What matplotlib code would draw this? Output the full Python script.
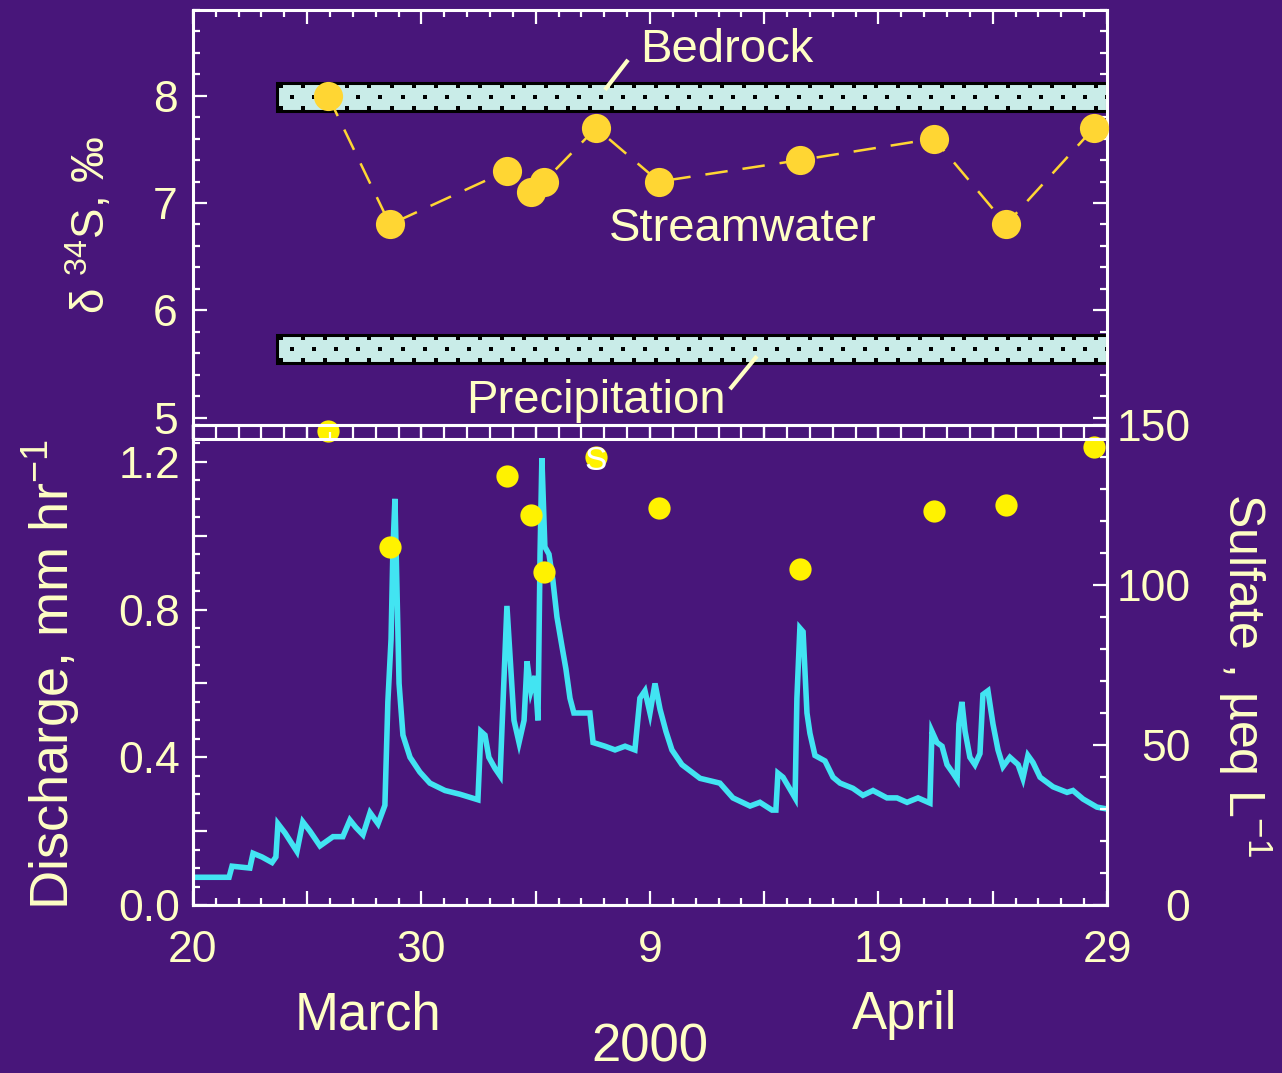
import numpy as np
import matplotlib
matplotlib.use('Agg')
import matplotlib.pyplot as plt
from matplotlib.ticker import MultipleLocator, FuncFormatter
from matplotlib.patches import Rectangle

plt.rcParams['font.family'] = ['Liberation Sans', 'DejaVu Sans']
plt.rcParams['mathtext.fontset'] = 'custom'
plt.rcParams['mathtext.rm'] = 'Liberation Sans'
plt.rcParams['mathtext.it'] = 'Liberation Sans:italic'

# === Dados: dias desde 20 de março de 2000 ===
dias_amostra = [5.91, 8.62, 13.74, 14.79, 15.36, 17.64, 20.39, 26.56, 32.43, 35.58, 39.43]
delta34s = [8.0, 6.8, 7.3, 7.1, 7.2, 7.7, 7.2, 7.4, 7.6, 6.8, 7.7]
sulfato = [148, 112, 134, 122, 104, 140, 124, 105, 123, 125, 143]

# faixas de d34S (min, max)
faixa_rocha = (7.86, 8.12)
faixa_precip = (5.51, 5.77)
inicio_faixas = 3.7

# === Hidrograma (vazão, mm/h) ===
dias_q = [0.0, 1.58, 1.71, 2.49, 2.63, 3.02, 3.46, 3.63, 3.72, 4.03, 4.55, 4.81,
          5.12, 5.56, 6.13, 6.56, 6.87, 7.13, 7.44, 7.75, 8.10, 8.40, 8.53, 8.67,
          8.75, 8.84, 8.93, 9.02, 9.19, 9.50, 9.93, 10.37, 11.03, 11.68, 12.47,
          12.60, 12.78, 12.95, 13.22, 13.44, 13.57, 13.74, 13.87, 14.05, 14.27,
          14.49, 14.62, 14.79, 14.97, 15.10, 15.19, 15.27, 15.40, 15.58, 15.75,
          15.93, 16.15, 16.32, 16.50, 16.67, 17.37, 17.51, 18.03, 18.47, 18.91,
          19.34, 19.56, 19.78, 20.00, 20.22, 20.44, 20.70, 20.96, 21.40, 22.19,
          23.06, 23.63, 24.38, 24.81, 25.34, 25.51, 25.60, 25.82, 26.35, 26.43,
          26.56, 26.70, 26.78, 26.87, 27.00, 27.22, 27.66, 28.01, 28.32, 28.88,
          29.32, 29.76, 30.37, 30.81, 31.25, 31.73, 32.25, 32.34, 32.56, 32.78,
          33.00, 33.26, 33.44, 33.52, 33.65, 33.79, 34.00, 34.22, 34.44, 34.57,
          34.79, 35.01, 35.23, 35.45, 35.75, 36.11, 36.32, 36.54, 36.76, 37.07,
          37.64, 38.25, 38.51, 38.95, 39.56, 40.0]
vazao = [0.075, 0.075, 0.105, 0.10, 0.14, 0.13, 0.115, 0.13, 0.22, 0.195, 0.145, 0.225,
         0.20, 0.16, 0.185, 0.185, 0.23, 0.21, 0.19, 0.25, 0.22, 0.27, 0.55, 0.72,
         0.96, 1.10, 0.85, 0.60, 0.46, 0.40, 0.36, 0.33, 0.31, 0.30, 0.285,
         0.47, 0.46, 0.40, 0.37, 0.35, 0.55, 0.81, 0.68, 0.50, 0.44,
         0.50, 0.66, 0.58, 0.62, 0.50, 0.95, 1.21, 0.97, 0.95, 0.88,
         0.78, 0.70, 0.64, 0.56, 0.52, 0.52, 0.44, 0.43, 0.42, 0.43,
         0.42, 0.56, 0.58, 0.52, 0.60, 0.53, 0.47, 0.42, 0.38, 0.343,
         0.33, 0.29, 0.268, 0.278, 0.257, 0.257, 0.357, 0.346, 0.29, 0.56,
         0.75, 0.74, 0.635, 0.52, 0.465, 0.405, 0.39, 0.346, 0.33, 0.316,
         0.297, 0.31, 0.29, 0.29, 0.278, 0.29, 0.276, 0.47, 0.44, 0.43,
         0.38, 0.357, 0.34, 0.49, 0.55, 0.47, 0.40, 0.38, 0.41, 0.57,
         0.58, 0.49, 0.42, 0.375, 0.40, 0.38, 0.343, 0.405, 0.386, 0.346,
         0.32, 0.305, 0.31, 0.287, 0.265, 0.26]

rotulos_x = ['20', '30', '9', '19', '29']

# === Estilo ===
fundo = '#48167A'
creme = '#FFFFC4'
ouro = '#FFD633'
amarelo = '#FFF200'
ciano = '#42E4F2'

fig = plt.figure(figsize=(12.82, 10.73), dpi=100, facecolor=fundo)

def estilo_eixo(ax):
    ax.set_facecolor('none')
    for s in ax.spines.values():
        s.set_color('white')
        s.set_linewidth(2.2)
    ax.tick_params(which='both', direction='in', colors='white', width=1.6,
                   labelcolor=creme, labelsize=32)
    ax.tick_params(which='major', length=10)
    ax.tick_params(which='minor', length=5)

# === Painel inferior: vazão e sulfato ===
ax_q = fig.add_axes([0.1505, 0.1566, 0.713, 0.4473])
ax_q.plot(dias_q, vazao, color=ciano, lw=4, solid_joinstyle='miter')
ax_q.set_xlim(0, 40)
ax_q.set_ylim(0, 1.3)
estilo_eixo(ax_q)
ax_q.tick_params(axis='x', which='both', top=True)
ax_q.tick_params(axis='y', which='both', right=False, pad=9)
ax_q.tick_params(axis='x', pad=18)
ax_q.xaxis.set_major_locator(MultipleLocator(5))
ax_q.xaxis.set_minor_locator(MultipleLocator(1))
ax_q.xaxis.set_major_formatter(FuncFormatter(
    lambda v, p: rotulos_x[int(round(v)) // 10] if int(round(v)) % 10 == 0 else ''))
ax_q.yaxis.set_major_locator(MultipleLocator(0.2))
ax_q.yaxis.set_minor_locator(MultipleLocator(0.05))
ax_q.yaxis.set_major_formatter(FuncFormatter(
    lambda v, p: f'{v:.1f}' if abs(v / 0.4 - round(v / 0.4)) < 1e-6 else ''))

ax_s = ax_q.twinx()
ax_s.plot(dias_amostra, sulfato, 'o', color=amarelo, ms=16, mec='none', clip_on=False)
ax_s.set_ylim(0, 150)
estilo_eixo(ax_s)
ax_s.yaxis.set_major_locator(MultipleLocator(50))
ax_s.yaxis.set_minor_locator(MultipleLocator(10))
ax_s.set_yticks([0, 50, 100, 150])
ax_s.set_yticklabels(['0', '50', '100', '150'], ha='right')
ax_s.tick_params(axis='y', pad=60)
ax_s.text(17.64, 138.5, 'S', color='white', fontsize=24, ha='center', va='center',
          zorder=6)

# === Painel superior: d34S ===
ax_d = fig.add_axes([0.1505, 0.5909, 0.713, 0.3998])
estilo_eixo(ax_d)
ax_d.set_xlim(0, 40)
ax_d.set_ylim(4.8, 8.8)
ax_d.tick_params(axis='x', which='both', top=True, labelbottom=False)
ax_d.tick_params(axis='y', which='both', right=True, pad=11)
ax_d.xaxis.set_major_locator(MultipleLocator(5))
ax_d.xaxis.set_minor_locator(MultipleLocator(1))
ax_d.yaxis.set_major_locator(MultipleLocator(1))
ax_d.yaxis.set_minor_locator(MultipleLocator(0.2))
ax_d.set_yticks([5, 6, 7, 8])

# escala aproximada do painel: px por dia e px por unidade de d34S
px_dia = 914 / 40
px_un = 429 / 4.0
for y0, y1 in (faixa_rocha, faixa_precip):
    ax_d.add_patch(Rectangle((inicio_faixas, y0), 40 - inicio_faixas, y1 - y0,
                             facecolor='#C9ECE8', edgecolor='black', lw=2.2,
                             zorder=2))
    # pontilhado em quincôncio
    for i in range(3):
        yy = y1 - (3.5 + 11 * i) / px_un
        xs = np.arange(inicio_faixas + (4 + 11 * (i % 2)) / px_dia, 40, 22 / px_dia)
        ax_d.scatter(xs, np.full_like(xs, yy), marker='s', s=5, c='black',
                     linewidths=0, zorder=2.5)

ax_d.plot(dias_amostra, delta34s, color=ouro, lw=1.8, dashes=(9, 6), zorder=3)
ax_d.plot(dias_amostra, delta34s, 'o', color=ouro, ms=21, mec='none', zorder=4,
          clip_on=False)

ax_d.text(19.56, 8.43, 'Bedrock', color=creme, fontsize=34, ha='left', va='center')
ax_d.plot([18.03, 19.04], [8.056, 8.335], color=creme, lw=3, zorder=5,
          solid_capstyle='butt')
ax_d.text(24.07, 6.76, 'Streamwater', color=creme, fontsize=34, ha='center',
          va='center', zorder=5)
ax_d.text(17.64, 5.15, 'Precipitation', color=creme, fontsize=34, ha='center',
          va='center')
ax_d.plot([23.5, 24.68], [5.265, 5.572], color=creme, lw=3, zorder=5,
          solid_capstyle='butt')

# === Rótulos dos eixos ===
fig.text(90 / 1282, 1 - 225 / 1073, 'δ $^{34}$S, ‰', color=creme, fontsize=33,
         rotation=90, ha='center', va='center')
fig.text(52 / 1282, 1 - 675 / 1073, 'Discharge, mm hr$^{-1}$', color=creme,
         fontsize=39, rotation=90, ha='center', va='center')
fig.text(1245 / 1282, 1 - 675 / 1073, 'Sulfate , µeq L$^{-1}$', color=creme,
         fontsize=36, rotation=270, ha='center', va='center')
fig.text(368 / 1282, 1 - 1015 / 1073, 'March', color=creme, fontsize=38,
         ha='center', va='center')
fig.text(905 / 1282, 1 - 1015 / 1073, 'April', color=creme, fontsize=38,
         ha='center', va='center')
fig.text(650 / 1282, 1 - 1048 / 1073, '2000', color=creme, fontsize=38,
         ha='center', va='center')

fig.savefig('out.png', dpi=100, facecolor=fundo)
